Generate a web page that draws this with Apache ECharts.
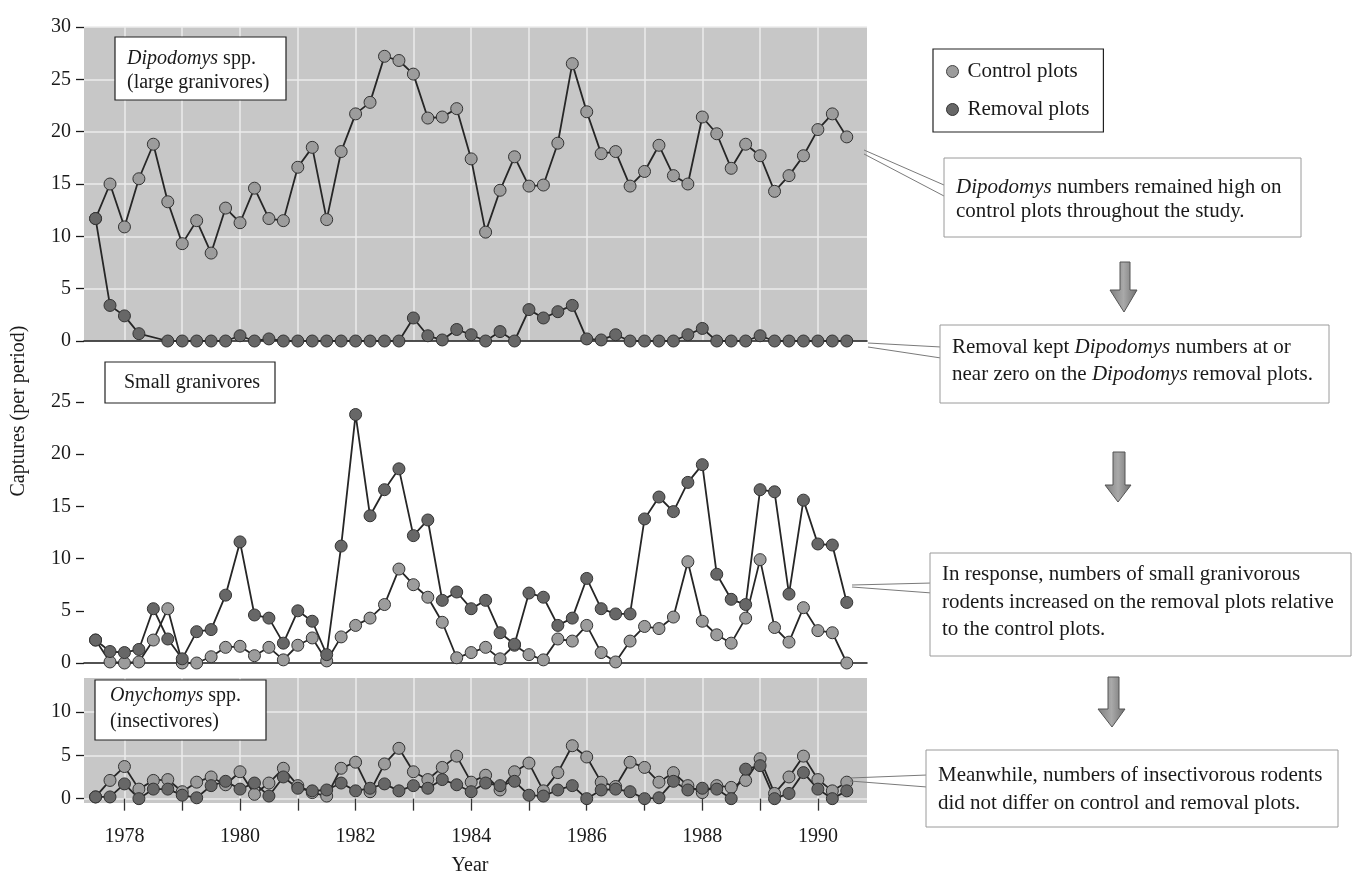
<!DOCTYPE html>
<html><head><meta charset="utf-8">
<script src="https://cdn.jsdelivr.net/npm/echarts@6/dist/echarts.min.js"></script>
<style>html,body{margin:0;padding:0;background:#fff}#chart{width:1358px;height:876px}</style>
</head><body><div id="chart"></div>
<script>
// census periods (years) (about every quarter)
const periods = [1977.5, 1977.75, 1978, 1978.25, 1978.5, 1978.75, 1979, 1979.25, 1979.5, 1979.75,
  1980, 1980.25, 1980.5, 1980.75, 1981, 1981.25, 1981.5, 1981.75, 1982, 1982.25, 1982.5, 1982.75,
  1983, 1983.25, 1983.5, 1983.75, 1984, 1984.25, 1984.5, 1984.75, 1985, 1985.25, 1985.5, 1985.75,
  1986, 1986.25, 1986.5, 1986.75, 1987, 1987.25, 1987.5, 1987.75, 1988, 1988.25, 1988.5, 1988.75,
  1989, 1989.25, 1989.5, 1989.75, 1990, 1990.25, 1990.5];

// Dipodomys spp. (large granivores)
const dipoControl = [11.7, 15.0, 10.9, 15.5, 18.8, 13.3, 9.3, 11.5, 8.4, 12.7, 11.3, 14.6, 11.7, 11.5,
  16.6, 18.5, 11.6, 18.1, 21.7, 22.8, 27.2, 26.8, 25.5, 21.3, 21.4, 22.2, 17.4, 10.4, 14.4, 17.6,
  14.8, 14.9, 18.9, 26.5, 21.9, 17.9, 18.1, 14.8, 16.2, 18.7, 15.8, 15.0, 21.4, 19.8, 16.5, 18.8,
  17.7, 14.3, 15.8, 17.7, 20.2, 21.7, 19.5];
const dipoRemoval = [11.7, 3.4, 2.4, 0.7, null, 0, 0, 0, 0, 0, 0.5, 0, 0.2, 0, 0, 0, 0, 0, 0, 0, 0, 0,
  2.2, 0.5, 0.1, 1.1, 0.6, 0, 0.9, 0, 3.0, 2.2, 2.8, 3.4, 0.2, 0.1, 0.6, 0, 0, 0, 0, 0.6, 1.2,
  0, 0, 0, 0.5, 0, 0, 0, 0, 0, 0];

// Small granivores
const smallControl = [2.2, 0.1, 0, 0.1, 2.2, 5.2, 0, 0, 0.6, 1.5, 1.6, 0.7, 1.5, 0.3, 1.7, 2.4, 0.2,
  2.5, 3.6, 4.3, 5.6, 9.0, 7.5, 6.3, 3.9, 0.5, 1.0, 1.5, 0.4, 1.7, 0.8, 0.3, 2.3, 2.1, 3.6, 1.0,
  0.1, 2.1, 3.5, 3.3, 4.4, 9.7, 4.0, 2.7, 1.9, 4.3, 9.9, 3.4, 2.0, 5.3, 3.1, 2.9, 0];
const smallRemoval = [2.2, 1.1, 1.0, 1.3, 5.2, 2.3, 0.4, 3.0, 3.2, 6.5, 11.6, 4.6, 4.3, 1.9, 5.0, 4.0,
  0.8, 11.2, 23.8, 14.1, 16.6, 18.6, 12.2, 13.7, 6.0, 6.8, 5.2, 6.0, 2.9, 1.8, 6.7, 6.3, 3.6, 4.3,
  8.1, 5.2, 4.7, 4.7, 13.8, 15.9, 14.5, 17.3, 19.0, 8.5, 6.1, 5.6, 16.6, 16.4, 6.6, 15.6, 11.4,
  11.3, 5.8];

// Onychomys spp. (insectivores)
const onyControl = [0.2, 2.1, 3.7, 1.1, 2.1, 2.2, 0.8, 1.9, 2.5, 1.6, 3.1, 0.5, 1.8, 3.5, 1.5, 0.7,
  0.3, 3.5, 4.2, 0.8, 4.0, 5.8, 3.1, 2.2, 3.6, 4.9, 1.9, 2.7, 1.0, 3.1, 4.1, 0.9, 3.0, 6.1, 4.8,
  1.9, 1.4, 4.2, 3.6, 1.9, 3.0, 1.5, 0.7, 1.5, 1.3, 2.1, 4.6, 0.6, 2.5, 4.9, 2.2, 0.9, 1.9];
const onyRemoval = [0.2, 0.2, 1.7, 0, 1.1, 1.1, 0.4, 0.1, 1.5, 2.0, 1.1, 1.8, 0.3, 2.5, 1.2, 0.9, 1.0,
  1.8, 0.9, 1.2, 1.7, 0.9, 1.5, 1.2, 2.2, 1.6, 0.8, 1.8, 1.5, 2.0, 0.4, 0.3, 1.0, 1.5, 0, 1.0, 1.1,
  0.8, 0, 0.1, 2.0, 1.0, 1.2, 1.1, 0, 3.4, 3.8, 0, 0.6, 3.0, 1.1, 0, 0.9];

// tick values
const yearTicks = [1978, 1979, 1980, 1981, 1982, 1983, 1984, 1985, 1986, 1987, 1988, 1989, 1990];
const yearLabels = [1978, 1980, 1982, 1984, 1986, 1988, 1990];
const topTicks = [0, 5, 10, 15, 20, 25, 30];
const midTicks = [0, 5, 10, 15, 20, 25];
const botTicks = [0, 5, 10];

const FONT = '"Liberation Serif", "DejaVu Serif", serif';
const PANEL = '#c7c7c7', GRIDLINE = '#ebebeb', INK = '#1a1a1a';
const CONTROL_FILL = '#9c9c9c', REMOVAL_FILL = '#676767';
const plain = v => String(v);

function pairs(ys) { return periods.map((x, i) => [x, ys[i] == null ? '-' : ys[i]]); }
function series(name, ys, gi, fill) {
  return {
    name, type: 'line', xAxisIndex: gi, yAxisIndex: gi, data: pairs(ys),
    symbol: 'circle', symbolSize: 12, connectNulls: true, clip: false, z: 3,
    lineStyle: { color: '#262626', width: 1.8 },
    itemStyle: { color: fill, borderColor: '#333', borderWidth: 1 },
    emphasis: { disabled: true }
  };
}
function xAxis(gi, opts) {
  return Object.assign({
    type: 'value', gridIndex: gi, min: 1977.3, max: 1990.85,
    axisLine: { show: false }, axisTick: { show: false, customValues: yearTicks },
    axisLabel: { show: false }, splitLine: { show: false }
  }, opts);
}
function yTicks(vals) {
  return {
    axisTick: { show: true, length: 8, customValues: vals, lineStyle: { color: INK, width: 1.3 } },
    axisLabel: { fontFamily: FONT, fontSize: 20, color: INK, margin: 13, customValues: vals, formatter: plain }
  };
}
function yAxis(gi, opts) {
  return Object.assign({
    type: 'value', gridIndex: gi,
    axisLine: { show: false },
    splitLine: { show: false }
  }, opts);
}
function box(x, y, w, h, stroke, lw) {
  return { type: 'rect', shape: { x, y, width: w, height: h }, z: 10,
    style: { fill: '#fff', stroke, lineWidth: lw } };
}
function txt(x, y, text, size, lh) {
  return { type: 'text', x, y, z: 11,
    style: { text, fontFamily: FONT, fontSize: size, lineHeight: lh, fill: INK,
      verticalAlign: 'top', align: 'left',
      rich: { i: { fontStyle: 'italic', fontFamily: FONT, fontSize: size, lineHeight: lh, fill: INK } } } };
}
function callout(x0, y0, x1, y1) {
  return { type: 'line', z: 9, shape: { x1: x0, y1: y0, x2: x1, y2: y1 },
    style: { stroke: '#7a7a7a', lineWidth: 1 } };
}
function arrow(sx1, sx2, top, headY, hx1, hx2, tipX, tipY) {
  return { type: 'polygon', z: 9,
    shape: { points: [[sx1, top], [sx2, top], [sx2, headY], [hx2, headY], [tipX, tipY], [hx1, headY], [sx1, headY]] },
    style: { fill: new echarts.graphic.LinearGradient(0, 0, 1, 0, [
      { offset: 0, color: '#7d7d7d' }, { offset: 0.5, color: '#a9a9a9' }, { offset: 1, color: '#6f6f6f' }]),
      stroke: '#555', lineWidth: 1 } };
}

const chart = echarts.init(document.getElementById('chart'), null, { renderer: 'canvas' });
chart.setOption({
  animation: false,
  backgroundColor: '#fff',
  grid: [
    { left: 84, width: 783, top: 27, height: 314, show: true, backgroundColor: PANEL, borderWidth: 0 },
    { left: 84, width: 783, top: 402, height: 261, show: false },
    { left: 84, width: 783, top: 678, height: 125, show: true, backgroundColor: PANEL, borderWidth: 0 }
  ],
  xAxis: [
    xAxis(0, { axisLine: { show: true, onZero: false, lineStyle: { color: INK, width: 1.5 } },
      splitLine: { show: true, lineStyle: { color: GRIDLINE, width: 1.5 } } }),
    xAxis(1, { axisLine: { show: true, onZero: false, lineStyle: { color: INK, width: 1.5 } } }),
    xAxis(2, { offset: 4,
      axisTick: { show: true, customValues: yearTicks, length: 12, lineStyle: { color: '#333', width: 1.3 } },
      axisLabel: { show: true, customValues: yearLabels, formatter: plain, fontFamily: FONT, fontSize: 20, color: INK, margin: 20 },
      splitLine: { show: true, lineStyle: { color: GRIDLINE, width: 1.5 } } })
  ],
  yAxis: [
    yAxis(0, Object.assign({ min: 0, max: 30, interval: 5,
      splitLine: { show: true, lineStyle: { color: GRIDLINE, width: 1.5 } } }, yTicks(topTicks))),
    yAxis(1, Object.assign({ min: 0, max: 25, interval: 5 }, yTicks(midTicks))),
    yAxis(2, Object.assign({ min: -0.5, max: 13.9,
      splitLine: { show: true, lineStyle: { color: GRIDLINE, width: 1.5 } } }, yTicks(botTicks)))
  ],
  legend: {
    orient: 'vertical', left: 933, top: 49, icon: 'circle',
    itemWidth: 12, itemHeight: 12, itemGap: 17,
    padding: [12, 14, 12, 13],
    borderColor: '#222', borderWidth: 1.2, backgroundColor: '#fff',
    textStyle: { fontFamily: FONT, fontSize: 21, color: INK, padding: [0, 0, 0, 4] },
    data: [
      { name: 'Control plots', itemStyle: { color: CONTROL_FILL, borderColor: '#444', borderWidth: 1 } },
      { name: 'Removal plots', itemStyle: { color: REMOVAL_FILL, borderColor: '#333', borderWidth: 1 } }
    ]
  },
  series: [
    series('Control plots', dipoControl, 0, CONTROL_FILL),
    series('Removal plots', dipoRemoval, 0, REMOVAL_FILL),
    series('Control plots', smallControl, 1, CONTROL_FILL),
    series('Removal plots', smallRemoval, 1, REMOVAL_FILL),
    series('Control plots', onyControl, 2, CONTROL_FILL),
    series('Removal plots', onyRemoval, 2, REMOVAL_FILL)
  ],
  graphic: [
    // panel labels
    box(115, 37, 171, 63, '#222', 1.2),
    txt(127, 47, '{i|Dipodomys} spp.\n(large granivores)', 20, 24),
    box(105, 362, 170, 41, '#222', 1.2),
    txt(124, 371, 'Small granivores', 20, 24),
    box(95, 680, 171, 60, '#222', 1.2),
    txt(110, 683, '{i|Onychomys} spp.\n(insectivores)', 20, 26),
    // axis titles
    { type: 'text', x: 19, y: 411, rotation: Math.PI / 2, z: 11,
      style: { text: 'Captures (per period)', fontFamily: FONT, fontSize: 20, fill: INK, align: 'center', verticalAlign: 'middle' } },
    { type: 'text', x: 470, y: 866, z: 11,
      style: { text: 'Year', fontFamily: FONT, fontSize: 20, fill: INK, align: 'center', verticalAlign: 'middle' } },
    // annotation boxes
    callout(864, 150, 944, 185), callout(864, 154, 944, 196),
    box(944, 158, 357, 79, '#9a9a9a', 1),
    txt(956, 175, '{i|Dipodomys} numbers remained high on\ncontrol plots throughout the study.', 21, 24),
    arrow(1120, 1130, 262, 290, 1110, 1137, 1124, 312),
    callout(868, 343, 941, 347), callout(868, 347, 941, 358),
    box(940, 325, 389, 78, '#9a9a9a', 1),
    txt(952, 334, 'Removal kept {i|Dipodomys} numbers at or\nnear zero on the {i|Dipodomys} removal plots.', 21, 27),
    arrow(1113, 1125, 452, 485, 1105, 1131, 1118, 502),
    callout(852, 585, 932, 583), callout(852, 587, 932, 593),
    box(930, 553, 421, 103, '#9a9a9a', 1),
    txt(942, 561, 'In response, numbers of small granivorous\nrodents increased on the removal plots relative\nto the control plots.', 21, 27.5),
    arrow(1108, 1119, 677, 709, 1098, 1125, 1112, 727),
    callout(850, 778, 927, 775), callout(850, 781, 927, 787),
    box(926, 750, 412, 77, '#9a9a9a', 1),
    txt(938, 761, 'Meanwhile, numbers of insectivorous rodents\ndid not differ on control and removal plots.', 21, 28)
  ]
});
</script>
</body></html>
